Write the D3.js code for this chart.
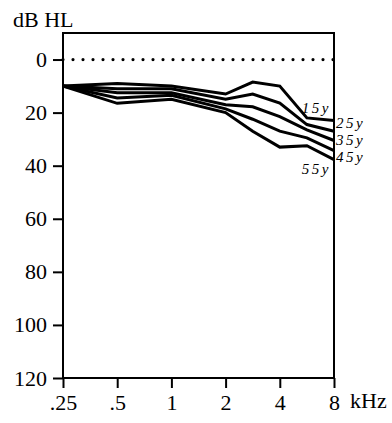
<!DOCTYPE html>
<html><head><meta charset="utf-8">
<script src="https://cdn.jsdelivr.net/npm/d3@7"></script>
</head>
<body style="margin:0;padding:0;background:#fff"><svg id="c" width="392" height="423"></svg>
<script>
const freqs = [0.25, 0.5, 1, 2, 3, 4, 6, 8];
const xTickValues = [0.25, 0.5, 1, 2, 4, 8];
const xTickLabels = [".25", ".5", "1", "2", "4", "8"];
const yTickValues = [0, 20, 40, 60, 80, 100, 120];
const seriesNames = ["15y", "25y", "35y", "45y", "55y"];
const s15 = [10, 9, 10, 13, 8.5, 10, 22, 23];
const s25 = [10, 11, 11, 15, 13, 16.4, 24.5, 27];
const s35 = [10, 12.5, 12.5, 17, 17.8, 21.5, 26.5, 30.5];
const s45 = [10, 14.5, 13.5, 18.6, 22.5, 27, 29.5, 34.3];
const s55 = [10, 16.5, 15, 20, 27, 33, 32.5, 37.7];
const series = [s15, s25, s35, s45, s55];

const FONT = "Liberation Serif";
const svg = d3.select("#c");
const L = 63, R = 334, T = 33, B = 378;
// octave-spaced axis (intermediate frequencies placed midway between octaves)
const x = d3.scaleLinear().domain(xTickValues).range(xTickValues.map((d, i) => L + i * (R - L) / (xTickValues.length - 1)));
const y = d3.scaleLinear().domain([-10, 120]).range([T, B]);

// dotted 0 dB line
svg.append("line").attr("x1", L).attr("x2", R).attr("y1", y(0)).attr("y2", y(0))
  .attr("stroke", "#000").attr("stroke-width", 3.2).attr("stroke-linecap", "round")
  .attr("stroke-dasharray", "0 10");

// frame
svg.append("rect").attr("x", L).attr("y", T).attr("width", R - L).attr("height", B - T)
  .attr("fill", "none").attr("stroke", "#000").attr("stroke-width", 2);

// y axis
const ya = svg.append("g").attr("transform", `translate(${L},0)`)
  .call(d3.axisLeft(y).tickValues(yTickValues).tickSize(10).tickPadding(6).tickFormat(d3.format("d")));
ya.attr("font-family", FONT).attr("font-size", 22);
ya.select(".domain").remove();
ya.selectAll("line").attr("stroke-width", 2);
ya.selectAll("text").style("font-family", FONT).style("font-size", "22px").attr("fill", "#000");

// x axis
const xa = svg.append("g").attr("transform", `translate(0,${B})`)
  .call(d3.axisBottom(x).tickValues(xTickValues).tickSize(10).tickPadding(6).tickFormat((d, i) => xTickLabels[i]));
xa.attr("font-family", FONT).attr("font-size", 22);
xa.select(".domain").remove();
xa.selectAll("line").attr("stroke-width", 2);
xa.selectAll("text").style("font-family", FONT).style("font-size", "22px").attr("fill", "#000");

svg.append("text").attr("x", 350).attr("y", 408).style("font-family", FONT).style("font-size", "22px").text("kHz");
svg.append("text").attr("x", 13).attr("y", 27).style("font-family", FONT).style("font-size", "22px").text("dB HL");

// curves
const line = d3.line().x((d, i) => x(freqs[i])).y(d => y(d));
svg.selectAll("path.curve").data(series).join("path").attr("class", "curve")
  .attr("d", line).attr("fill", "none").attr("stroke", "#000")
  .attr("stroke-width", 3).attr("stroke-linejoin", "miter");

// labels
const labelPos = [
  {x: 331, y: 113, a: "end"},
  {x: 336, y: 128, a: "start"},
  {x: 336, y: 145, a: "start"},
  {x: 336, y: 162, a: "start"},
  {x: 331, y: 174, a: "end"}
];
svg.selectAll("text.lab").data(seriesNames).join("text").attr("class", "lab")
  .attr("x", (d, i) => labelPos[i].x).attr("y", (d, i) => labelPos[i].y)
  .attr("text-anchor", (d, i) => labelPos[i].a)
  .style("font-family", FONT).style("font-size", "15px").style("font-style", "italic").style("letter-spacing", "2.5px")
  .text(d => d);
</script></body></html>
